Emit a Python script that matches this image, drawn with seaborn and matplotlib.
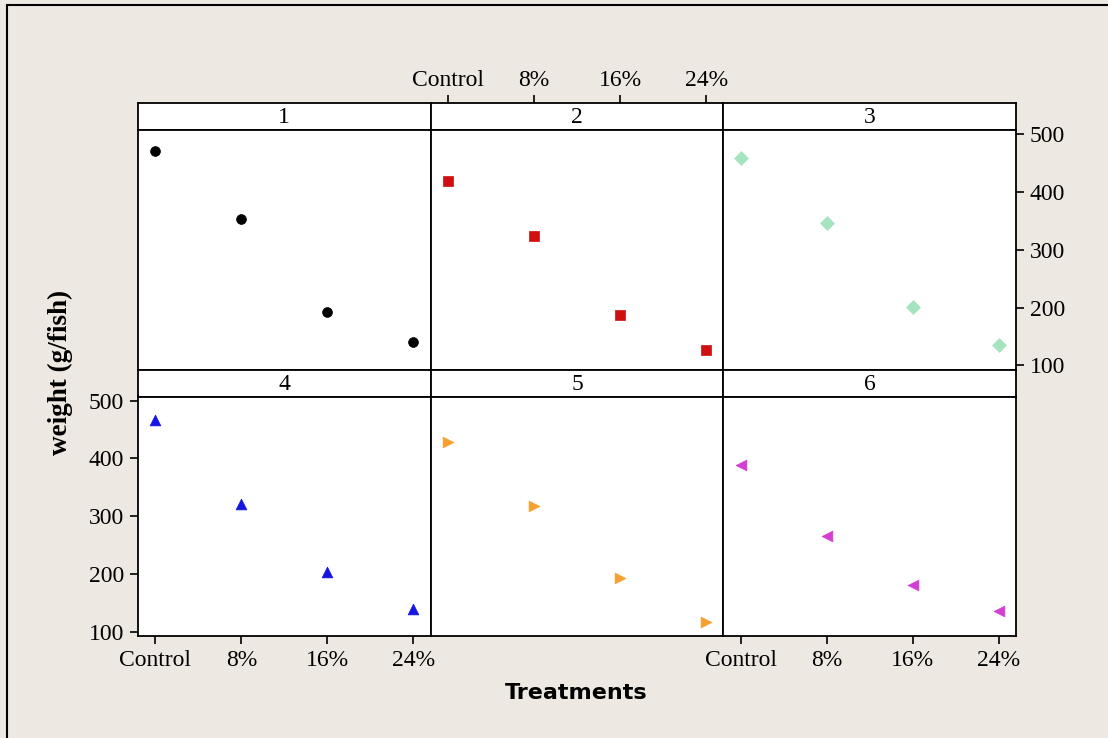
import numpy as np
import pandas as pd
import seaborn as sns
import matplotlib.pyplot as plt
from matplotlib.patches import Rectangle

treatments = ["Control", "8%", "16%", "24%"]
panels = ["1", "2", "3", "4", "5", "6"]
weights = {
    "1": [471, 354, 193, 140],
    "2": [419, 323, 188, 126],
    "3": [459, 347, 201, 136],
    "4": [466, 321, 203, 139],
    "5": [428, 318, 193, 117],
    "6": [388, 265, 181, 136],
}
markers = {"1": "o", "2": "s", "3": "D", "4": "^", "5": ">", "6": "<"}
colors = {"1": "#000000", "2": "#D01010", "3": "#A6E3BF",
          "4": "#1515E0", "5": "#F7A030", "6": "#D43ED4"}
sizes = {"1": 50, "2": 45, "3": 50, "4": 60, "5": 60, "6": 60}
yticks = [100, 200, 300, 400, 500]

df = pd.DataFrame([
    {"panel": p, "treatment": t, "weight": w}
    for p in panels for t, w in zip(treatments, weights[p])
])

sns.set_style("white")
plt.rcParams["font.family"] = ["Liberation Serif", "DejaVu Serif"]
plt.rcParams["text.color"] = "black"
plt.rcParams["xtick.color"] = "black"
plt.rcParams["ytick.color"] = "black"

W, H = 1108, 738
fig = plt.figure(figsize=(W / 100, H / 100), dpi=100)
fig.patch.set_facecolor("#EDE8E2")
# frame line (top and left edges visible)
fig.add_artist(Rectangle((7 / W, -0.1), 1.2, 1.1 - 5 / H, transform=fig.transFigure,
                         fill=False, edgecolor="black", lw=1.5))

left, right = 138, 1016
top = 103
strip_h, plot_h = 27, 239.5
col_w = (right - left) / 3


def fax(x0, y0, w, h):
    # pixel box (top-left origin) -> figure axes
    return fig.add_axes([x0 / W, 1 - (y0 + h) / H, w / W, h / H])


for i, p in enumerate(panels):
    r, c = divmod(i, 3)
    x0 = left + c * col_w
    y_strip = top + r * (strip_h + plot_h)
    sax = fax(x0, y_strip, col_w, strip_h)
    ax = fax(x0, y_strip + strip_h, col_w, plot_h)

    sub = df[df["panel"] == p]
    sns.scatterplot(data=sub, x="treatment", y="weight", ax=ax, marker=markers[p],
                    color=colors[p], s=sizes[p], edgecolor=colors[p], linewidth=0.5,
                    legend=False)
    ax.set_xlim(-0.2, 3.2)
    ax.set_ylim(93, 507)
    ax.set_xlabel("")
    ax.set_ylabel("")
    ax.set_facecolor("white")
    for sp in ax.spines.values():
        sp.set_color("black")
        sp.set_linewidth(1.3)

    ax.tick_params(direction="out", length=6, width=1.2, color="black",
                   labelsize=17, pad=4, labelcolor="black",
                   bottom=False, left=False, labelbottom=False, labelleft=False)
    ax.set_yticks(yticks)
    if r == 1 and c in (0, 2):
        ax.tick_params(bottom=True, labelbottom=True)
    if r == 1 and c == 0:
        ax.tick_params(left=True, labelleft=True)
    if r == 0 and c == 2:
        ax.tick_params(right=True, labelright=True)

    # strip
    sax.set_xlim(ax.get_xlim())
    sax.set_ylim(0, 1)
    sax.set_facecolor("white")
    sax.set_yticks([])
    sax.text(0.5, 0.45, p, transform=sax.transAxes, ha="center", va="center", fontsize=17)
    for sp in sax.spines.values():
        sp.set_color("black")
        sp.set_linewidth(1.3)
    if r == 0 and c == 1:
        sax.set_xticks(range(len(treatments)))
        sax.set_xticklabels(treatments)
        sax.tick_params(axis="x", top=True, labeltop=True, bottom=False, labelbottom=False,
                        direction="out", length=6, width=1.2, labelsize=17, pad=3)
    else:
        sax.set_xticks([])

fig.text(60 / W, 1 - 372 / H, "weight (g/fish)", rotation=90, ha="center", va="center",
         fontsize=19.5, fontweight="bold")
fig.text(576 / W, 1 - 693 / H, "Treatments", ha="center", va="center",
         fontsize=16, fontweight="bold", family="DejaVu Sans")

fig.savefig("out.png", dpi=100, facecolor=fig.get_facecolor())
